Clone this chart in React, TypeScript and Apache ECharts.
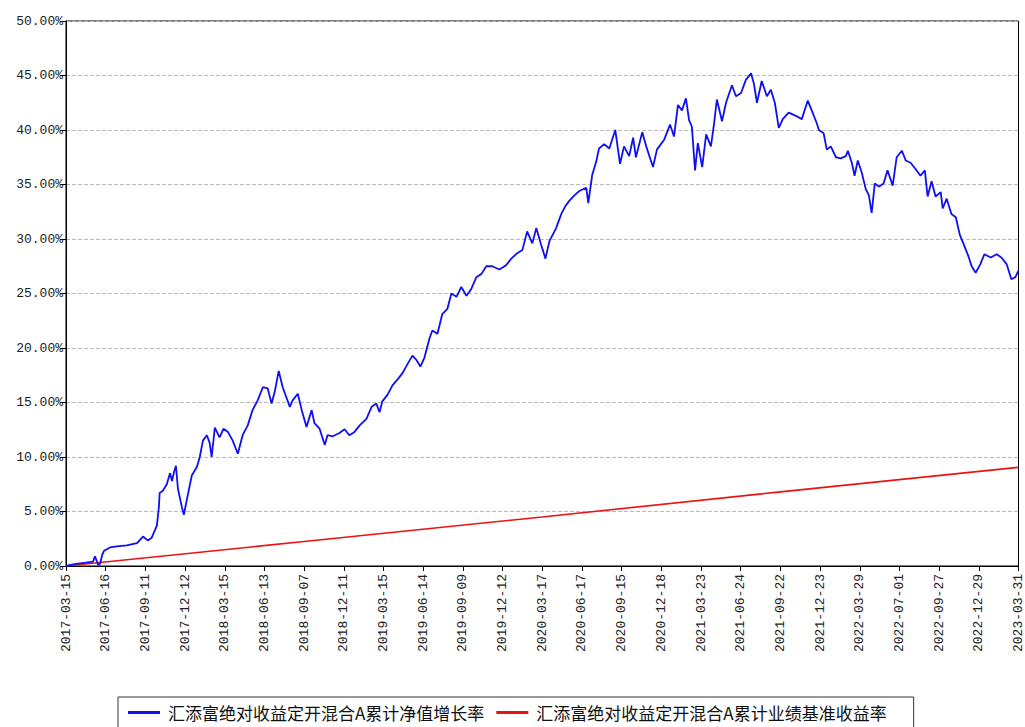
import React, { useEffect, useRef } from "react";
import * as echarts from "echarts";

// Tick labels along the x axis (one every 10 index units)
const dateLabels = [
  "2017-03-15", "2017-06-16", "2017-09-11", "2017-12-12",
  "2018-03-15", "2018-06-13", "2018-09-07", "2018-12-11",
  "2019-03-15", "2019-06-14", "2019-09-09", "2019-12-12",
  "2020-03-17", "2020-06-17", "2020-09-15", "2020-12-18",
  "2021-03-23", "2021-06-24", "2021-09-22", "2021-12-23",
  "2022-03-29", "2022-07-01", "2022-09-27", "2022-12-29",
  "2023-03-31",
];

// Accumulated NAV growth (%), position on the trading-day index scale
const navIndex = [
  0, 2.5, 5.0, 6.8, 7.3, 8.1, 8.6, 9.1, 9.6, 11.1, 12.8, 15.3, 17.9, 19.4, 20.6, 21.6, 22.9, 23.4, 23.6, 24.4,
  25.4, 26.2, 26.7, 27.2, 27.7, 28.2, 29.2, 29.7, 30.4, 31.7, 33.0, 33.7, 34.5, 35.5, 36.2, 36.7, 37.5, 38.7, 39.7, 40.8,
  42.0, 43.3, 44.5, 45.8, 47.0, 48.3, 49.6, 50.8, 51.8, 52.6, 53.6, 54.6, 56.4, 57.1, 58.4, 59.4, 60.1, 60.6, 61.9, 62.6,
  63.9, 65.2, 65.9, 67.2, 68.9, 70.2, 71.4, 72.7, 74.0, 75.7, 77.0, 78.2, 79.0, 79.7, 81.0, 82.3, 83.5, 84.8, 86.0, 87.3,
  88.3, 89.3, 90.3, 91.6, 92.3, 93.6, 94.8, 96.1, 97.1, 98.4, 99.6, 100.9, 102.1, 103.4, 104.7, 105.9, 107.4, 109.2, 110.9, 112.2,
  113.7, 115.0, 116.2, 117.5, 118.5, 119.7, 120.8, 121.8, 123.5, 124.8, 125.8, 126.8, 128.1, 129.3, 131.1, 131.6, 132.6, 133.6, 134.3, 135.6,
  136.9, 138.4, 139.6, 140.6, 141.9, 142.9, 143.6, 145.2, 146.2, 147.9, 148.9, 150.7, 152.2, 153.2, 154.2, 155.2, 156.2, 157.0, 157.7, 158.5,
  159.2, 160.3, 161.3, 162.5, 163.3, 164.0, 165.3, 166.3, 167.8, 168.8, 170.1, 171.3, 172.6, 173.3, 174.1, 175.3, 176.6, 177.6, 178.6, 179.6,
  180.6, 182.1, 183.9, 185.4, 186.9, 187.9, 189.2, 189.7, 190.9, 191.7, 192.7, 194.0, 195.2, 196.5, 197.0, 198.0, 198.7, 199.5, 200.5, 201.5,
  202.3, 203.0, 203.8, 204.8, 206.0, 207.0, 208.3, 209.3, 210.6, 211.6, 212.8, 214.1, 215.3, 216.4, 217.1, 218.1, 219.1, 220.4, 220.9, 221.9,
  223.1, 224.2, 225.2, 226.2, 227.4, 228.2, 229.2, 230.4, 231.4, 233.0, 234.5, 235.7, 237.0, 238.2, 239.2, 240,
];
const navValue = [
  0, 0.2, 0.3, 0.4, 0.9, 0.1, 0.2, 1.0, 1.4, 1.7, 1.8, 1.9, 2.1, 2.7, 2.35, 2.6, 3.7, 5.4, 6.7, 6.9,
  7.5, 8.5, 7.8, 8.6, 9.2, 7.1, 5.4, 4.7, 6.0, 8.3, 9.1, 10.0, 11.5, 12.0, 11.3, 10.0, 12.7, 11.8, 12.6, 12.3,
  11.5, 10.3, 12.0, 12.9, 14.3, 15.2, 16.4, 16.3, 14.9, 16.0, 17.9, 16.4, 14.6, 15.2, 15.8, 14.3, 13.4, 12.75, 14.3, 13.1,
  12.6, 11.1, 12.0, 11.9, 12.2, 12.55, 12.0, 12.3, 12.9, 13.5, 14.6, 14.9, 14.1, 15.1, 15.7, 16.6, 17.1, 17.7, 18.5, 19.3,
  18.9, 18.3, 19.1, 20.9, 21.6, 21.3, 23.1, 23.6, 25.0, 24.7, 25.6, 24.8, 25.4, 26.5, 26.8, 27.5, 27.5, 27.2, 27.6, 28.2,
  28.7, 29.0, 30.7, 29.6, 31.0, 29.5, 28.2, 29.8, 31.0, 32.3, 33.0, 33.5, 34.0, 34.4, 34.7, 33.3, 35.9, 37.1, 38.3, 38.7,
  38.3, 40.0, 36.9, 38.5, 37.6, 39.3, 37.5, 39.8, 38.5, 36.6, 38.2, 39.1, 40.5, 39.4, 42.3, 41.8, 42.9, 40.9, 40.3, 36.3,
  38.8, 36.6, 39.6, 38.5, 40.6, 42.8, 40.8, 42.5, 44.1, 43.1, 43.4, 44.6, 45.2, 44.3, 42.5, 44.5, 43.1, 43.7, 42.5, 40.2,
  41.0, 41.6, 41.3, 41.0, 42.7, 41.8, 40.6, 40.0, 39.7, 38.2, 38.5, 37.5, 37.4, 37.6, 38.1, 37.0, 35.8, 37.2, 36.1, 34.6,
  34.0, 32.4, 35.1, 34.8, 35.1, 36.3, 34.9, 37.5, 38.1, 37.2, 37.0, 36.4, 35.8, 36.3, 33.9, 35.3, 33.9, 34.3, 32.8, 33.7,
  32.3, 32.0, 30.4, 29.5, 28.4, 27.5, 26.9, 27.7, 28.6, 28.3, 28.6, 28.3, 27.7, 26.3, 26.5, 27.1,
];

// Benchmark return (%)
const benchIndex = [0, 60, 120, 180, 240];
const benchValue = [0, 2.25, 4.5, 6.8, 9.05];

const navName = "汇添富绝对收益定开混合A累计净值增长率";
const benchName = "汇添富绝对收益定开混合A累计业绩基准收益率";

export default function App() {
  const ref = useRef<HTMLDivElement>(null);
  useEffect(() => {
    if (!ref.current) return;
    const chart = echarts.init(ref.current, null, { renderer: "svg" });
    const navData = navIndex.map((x, i) => [x, navValue[i]]);
    const benchData = benchIndex.map((x, i) => [x, benchValue[i]]);
    const labelFont = "'Liberation Mono', 'DejaVu Sans Mono', monospace";
    chart.setOption({
      animation: false,
      backgroundColor: "#ffffff",
      grid: {
        left: 66,
        right: 5,
        top: 21,
        bottom: 161,
        show: true,
        borderColor: "#000",
        borderWidth: 1,
        backgroundColor: "transparent",
      },
      legend: {
        left: 118,
        top: 697,
        padding: [7, 27, 12, 10],
        borderColor: "#333",
        borderWidth: 1,
        itemGap: 12,
        itemWidth: 32,
        itemHeight: 3,
        icon: "rect",
        textStyle: {
          fontSize: 17,
          color: "#111",
          fontFamily: "'Noto Sans CJK SC', sans-serif",
          padding: [0, 0, 0, 3],
        },
        data: [navName, benchName],
      },
      xAxis: {
        type: "value",
        min: 0,
        max: 240,
        interval: 10,
        axisLine: { show: true, lineStyle: { color: "#000", width: 1 } },
        axisTick: { show: true, length: 5, lineStyle: { color: "#000" } },
        splitLine: { show: false },
        axisLabel: {
          rotate: 90,
          margin: 8,
          color: "#222",
          fontSize: 13,
          fontFamily: labelFont,
          showMinLabel: true,
          showMaxLabel: true,
          formatter: (v: number) => dateLabels[Math.round(v / 10)] ?? "",
        },
      },
      yAxis: {
        type: "value",
        min: 0,
        max: 50,
        interval: 5,
        axisLine: { show: true, lineStyle: { color: "#000", width: 1 } },
        axisTick: { show: true, length: 6, lineStyle: { color: "#000" } },
        splitLine: { show: true, lineStyle: { color: "#bbb", type: "dashed", width: 1 } },
        axisLabel: {
          margin: 3,
          color: "#222",
          fontSize: 13,
          fontFamily: labelFont,
          formatter: (v: number) => v.toFixed(2) + "%",
        },
      },
      series: [
        {
          name: navName,
          type: "line",
          data: navData,
          showSymbol: false,
          symbol: "none",
          lineStyle: { color: "#1010ee", width: 1.8 },
          itemStyle: { color: "#1010ee" },
          z: 3,
        },
        {
          name: benchName,
          type: "line",
          data: benchData,
          showSymbol: false,
          symbol: "none",
          lineStyle: { color: "#ee1111", width: 1.6 },
          itemStyle: { color: "#ee1111" },
          z: 2,
        },
      ],
    });
    return () => chart.dispose();
  }, []);
  return (
    <div
      ref={ref}
      style={{ position: "absolute", left: 0, top: 0, width: 1025, height: 727 }}
    />
  );
}
